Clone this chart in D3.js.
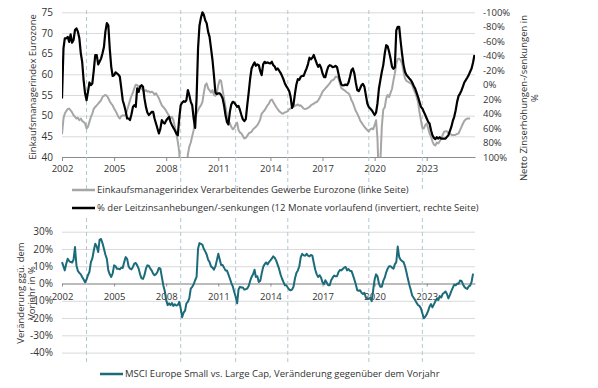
<!DOCTYPE html>
<html lang="de">
<head>
  <meta charset="UTF-8" />
  <title>Einkaufsmanagerindex, Leitzinsen und Small Caps</title>
  <script src="https://cdn.jsdelivr.net/npm/d3@7"></script>
  <style>
    body { margin: 0; background: #fff; }
    svg text { font-family: "Open Sans", sans-serif; font-size: 9.5px; fill: #333; }
    .grid line { stroke: #d9d9d9; }
  </style>
</head>
<body>
<div id="chart"></div>
<script>
// monthly values from 2002-01 on
const startMonth = "2002-01";

// Einkaufsmanagerindex Verarbeitendes Gewerbe Eurozone (left axis)
const pmi = [
  45.5, 49.3, 50.5, 51.1, 51.6, 51.7, 51.3, 50.8, 50.1, 49.7,
  49.3, 49.5, 48.9, 49.3, 48.7, 48.5, 48.1, 46.9, 47.3, 48.5,
  49.7, 50.5, 51.7, 52.1, 52.5, 52.9, 53.3, 53.7, 54.5, 54.8,
  55.0, 54.8, 54.2, 53.5, 52.9, 52.5, 51.7, 51.1, 50.5, 49.7,
  49.3, 49.9, 50.1, 50.0, 50.3, 51.3, 52.5, 53.7, 54.8, 55.6,
  56.6, 57.5, 57.4, 57.0, 57.2, 56.6, 56.2, 55.9, 56.2, 55.8,
  55.9, 55.6, 55.8, 55.6, 55.1, 55.4, 54.8, 54.2, 53.3, 52.5,
  52.1, 51.7, 51.1, 50.5, 50.0, 49.3, 49.7, 48.9, 47.3, 45.7,
  43.7, 41.3, 36.0, 34.0, 34.5, 34.0, 37.0, 40.6, 42.5, 43.5,
  45.0, 46.5, 49.5, 50.5, 51.3, 52.0, 52.5, 53.3, 55.4, 57.4,
  57.8, 56.6, 56.1, 55.6, 56.2, 55.0, 54.8, 55.6, 57.4, 58.6,
  58.4, 56.2, 54.2, 52.1, 50.1, 48.9, 48.1, 47.3, 46.7, 47.0,
  47.8, 48.3, 46.5, 45.9, 45.7, 45.1, 44.5, 44.6, 45.1, 45.7,
  45.9, 46.1, 46.7, 47.0, 47.3, 47.7, 48.3, 49.1, 50.5, 50.9,
  51.3, 51.9, 52.5, 52.9, 53.7, 53.9, 53.3, 52.7, 52.1, 51.6,
  51.1, 50.8, 50.5, 50.5, 50.8, 50.9, 51.1, 51.6, 51.7, 52.0,
  52.1, 52.4, 52.5, 52.7, 52.4, 52.5, 52.1, 51.7, 51.6, 51.7,
  51.9, 52.1, 52.5, 52.7, 52.9, 53.2, 53.3, 53.7, 54.3, 55.0,
  55.8, 56.2, 56.6, 57.0, 57.4, 57.8, 58.4, 58.6, 58.8, 59.4,
  59.4, 59.0, 57.8, 56.7, 56.4, 56.2, 55.9, 55.6, 55.4, 54.8,
  53.7, 53.1, 52.1, 51.1, 50.5, 49.7, 48.9, 48.3, 47.8, 47.3,
  46.9, 46.5, 46.2, 46.7, 46.9, 46.7, 47.7, 48.9, 44.5, 33.5,
  39.0, 47.4, 51.5, 52.0, 54.2, 55.0, 54.5, 55.5, 56.5, 58.6,
  60.2, 62.6, 63.7, 63.8, 63.4, 62.6, 60.6, 59.0, 58.4, 58.2,
  58.0, 57.8, 57.4, 56.4, 55.6, 54.6, 53.3, 50.9, 48.9, 47.0,
  46.9, 47.7, 48.1, 46.9, 45.7, 44.9, 43.8, 43.0, 42.8, 43.5,
  43.3, 43.8, 44.5, 45.3, 46.1, 46.2, 46.2, 45.8, 45.7, 45.4,
  45.3, 45.3, 45.4, 45.6, 45.7, 46.5, 47.3, 48.1, 48.7, 49.1,
  49.3, 49.3, 49.3
];

// % der Leitzinsanhebungen/-senkungen, 12 Monate vorlaufend (right axis, inverted)
const rateNet = [
  19.2, -50, -64, -64, -66, -59, -69.5, -58, -61.6, -75.5,
  -77.8, -73.2, -64, -43, -31.6, -6, 12, 21.5, 10, -3,
  0.7, -1.6, -20, -41, -41, -28, -31.6, -36, -43, -52,
  -73, -85, -82, -50, -25, -12, -13, -17, -15.5, -14,
  -11, 5, 21.5, 28.4, 36.7, 46.8, 46.8, 49, 41, 30.7,
  28.4, 30.7, 5, 10, 3, 0.7, 3, 19, 30.7, 38.5,
  42, 40, 37.6, 37.6, 46.8, 53.7, 60.7, 67.6, 60.7, 49,
  52.4, 53.7, 49.5, 46.8, 44.5, 51.4, 56, 59.7, 63, 67.6,
  70, 46.8, 28.4, 25, 22.8, 23.8, 21.5, 7.6, 14.5, 23.8,
  28.4, 46.8, 59.7, 19, -50, -81.5, -92.5, -100, -97, -89,
  -85, -73, -66, -50, -34, -13, 11, 13, 12, 12,
  14.5, 19, 28.4, 42, 51.4, 55, 37.6, 27.5, 23.8, 24.7,
  27.5, 30.7, 29.3, 35.3, 42, 48, 50.5, 47.7, 28.4, 11,
  -8.5, -22.4, -27, -30.7, -26, -28, -27, -18.7, -13.2, -28,
  -31.6, -29.8, -30.7, -29.8, -29.3, -31.6, -27, -25, -20.5, -22.4,
  -19.6, -16.4, -12.2, -7.6, -1.6, 2, 5.3, 9, 16.8, 32,
  27.5, 12.3, -0.2, -7.6, -6.7, -11, -12.2, -12.2, -17.8, -22.4,
  -28.4, -37.2, -35, -37.2, -41, -35, -29.3, -24.7, -27.5, -23.4,
  -15.5, -10.4, -10.4, -18.7, -24.7, -27, -26, -24.3, -24.7, -26,
  -24.3, -15.5, -6.2, 0, 1, 0.7, 0, 0.7, -3, -11,
  -20, -22.4, -15.5, -3, 7.6, 9, 5.3, 0.7, -1, 3,
  14.5, 26, 31, 33, 35.3, 38.5, 42, 38.5, 26, 5.3,
  -6.2, -17.8, -27, -43, -54.5, -53, -45.5, -36.2, -24.7, -22,
  -24, -75, -80, -80, -60, -42, -27, -17.8, -13.2, -11,
  -8.5, -6.2, -3, 1.6, 5.3, 11, 16.8, 23.8, 30.7, 33,
  37.6, 42, 46.8, 51.4, 53.7, 63, 70, 73.6, 75.4, 72.7,
  74.5, 72.7, 74.5, 74.5, 74.5, 74.5, 72.2, 69.9, 64.4, 58.4,
  50.5, 44.5, 35.3, 23.8, 15.5, 12.3, 8, 2.5, -3, -6.2,
  -9.5, -13.2, -17.8, -22.4, -30.7, -41
];

// MSCI Europe Small vs. Large Cap, Veraenderung gg. Vorjahr in %
const msciRel = [
  12.4, 9.9, 7.6, 11.5, 14.3, 13, 12.4, 12.2, 13.8, 21.1,
  10.5, 7.3, 6.1, 5.3, 3.8, 2.3, 0.7, 2.3, 4.8, 6.7,
  12.4, 14.5, 19.1, 23, 21.4, 18.2, 25.3, 25.8, 23.4, 20.1,
  16.8, 14.3, 7.6, 5.3, 3.8, 5.7, 10.5, 10, 8.6, 8.6,
  8.2, 9.2, 9, 12.4, 15.3, 14.3, 10, 8.6, 8.2, 9.6,
  11.5, 11.9, 10.5, 8.6, 5.3, 3, 2.7, 4.8, 8.6, 10.5,
  10.3, 8.6, 7.6, 5.7, 4.8, 5.4, 6.7, 9, 8.6, 3.8,
  -1, -4.2, -9.6, -12.5, -11.5, -12.5, -11.3, -13, -12, -12.7,
  -12.5, -10.6, -14.4, -19.5, -16.9, -15.7, -11.5, -10.6, -8.6, -2.9,
  -1.9, -0.4, 1.9, 3.8, 20.1, 23.4, 23, 22.4, 20.1, 18.6,
  16.8, 13.8, 12.4, 9.9, 9.2, 8, 9.9, 13.4, 17.2, 13.8,
  10.7, 10.7, 9.2, 7.6, 7.6, 5.3, 2.9, 0.4, -1.6, -4.8,
  -7.7, -11.5, -3.5, -1.9, -2.3, -2.3, -3.5, -3.3, -2.9, -1.4,
  1.5, 3.8, 5.3, 8, 3.8, 4.2, 0.9, 1.5, 5.7, 9.6,
  11.1, 12.2, 11.1, 12.4, 13.4, 14.5, 15.7, 14.9, 13.4, 10.9,
  8.6, 5.3, 2.9, 0.9, -1, -1, -2.3, -3.5, -3.9, -3.5,
  -1.9, 2.9, 6.1, 7.6, 10, 15.3, 17.2, 16.3, 16.1, 17.2,
  16.1, 15.7, 16.5, 16.1, 11.9, 8, 5.3, 3.8, 4.8, 3.4,
  0.6, -0.4, 1.9, 0.4, -1, -1, 1.9, 3.4, 4.6, 4.2,
  4.2, 6.5, 7.8, 7.6, 8.4, 9.2, 9.6, 7.6, 8.4, 7.3,
  7.3, 5, 2.3, -0.4, -3.9, -4.2, -3.9, -5.4, -6.1, -5.4,
  -8.1, -8.8, -8.8, -8.4, -10.2, -3.9, 2.3, 5.3, 4.2, 0,
  -1.9, -1.9, 1.5, 3.4, 6.5, 8.6, 10, 10, 9.2, 8.6,
  11.1, 12.4, 21.4, 15.3, 13.8, 13, 12.4, 10, 6.5, 2.7,
  -0.8, -3.9, -6.9, -8.2, -9.6, -11.1, -12.5, -13, -14.4, -17.2,
  -20.1, -19.2, -17.8, -15.7, -13.4, -11.9, -13.8, -12.1, -10.3, -8.8,
  -9.6, -7.3, -8.1, -6.1, -5.4, -4.6, -6.1, -8.6, -6.7, -4.4,
  -2.5, -0.6, -1, 0, -0.2, 1.7, 1.5, -0.4, -1.9, -2.7,
  -3.1, -1.7, -1.2, 0.9, 5.7
];

const yearTicks = [2002, 2005, 2008, 2011, 2014, 2017, 2020, 2023];
const eventMonths = ["2003-06", "2008-11", "2012-01", "2015-01", "2019-09", "2022-10"];
const leftTicks = [40, 45, 50, 55, 60, 65, 70, 75];
const rightTicks = [-100, -80, -60, -40, -20, 0, 20, 40, 60, 80, 100];
const lowerTicks = [30, 20, 10, 0, -10, -20, -30, -40];

const labelPmi = "Einkaufsmanagerindex Verarbeitendes Gewerbe Eurozone (linke Seite)";
const labelRate = "% der Leitzinsanhebungen/-senkungen (12 Monate vorlaufend (invertiert, rechte Seite)";
const labelMsci = "MSCI Europe Small vs. Large Cap, Veränderung gegenüber dem Vorjahr";

const W = 598, H = 388;
const left = 62, right = 475;
const parseMonth = d3.timeParse("%Y-%m");
const t0 = parseMonth(startMonth);
const toSeries = vals => vals.map((v, i) => ({ date: d3.timeMonth.offset(t0, i), value: v }));

const x = d3.scaleTime()
  .domain([new Date(2002, 0, 1), new Date(2025, 9, 12)])
  .range([left, right]);
const yL = d3.scaleLinear().domain([40, 75]).range([157, 12.3]);
const yR = d3.scaleLinear().domain([100, -100]).range([157, 12.3]);
const yB = d3.scaleLinear().domain([-40, 30]).range([352.6, 231.7]);

const svg = d3.select("#chart").append("svg")
  .attr("width", W)
  .attr("height", H);

svg.append("rect").attr("width", W).attr("height", H).attr("fill", "#fff");

const defs = svg.append("defs");
defs.append("clipPath").attr("id", "clipTop")
  .append("rect")
  .attr("x", left).attr("y", 0)
  .attr("width", right - left).attr("height", yL(40));

const pct = d => d + "%";

// ---------- upper panel ----------
svg.append("g")
  .attr("class", "grid")
  .attr("transform", `translate(${left},0)`)
  .call(d3.axisLeft(yL).tickValues(leftTicks).tickSize(-(right - left)).tickPadding(9))
  .call(g => g.select(".domain").remove())
  .call(g => g.selectAll("text").style("font-size", "10px"));

svg.append("g")
  .attr("transform", `translate(${right},0)`)
  .call(d3.axisRight(yR).tickValues(rightTicks).tickSize(0).tickPadding(8).tickFormat(pct))
  .call(g => g.select(".domain").remove());

svg.append("g")
  .attr("transform", `translate(0,${yL(40)})`)
  .call(d3.axisBottom(x)
    .tickValues(yearTicks.map(yr => new Date(yr, 0, 1)))
    .tickFormat(d3.timeFormat("%Y"))
    .tickSize(4).tickSizeOuter(0).tickPadding(4))
  .call(g => g.select(".domain").attr("stroke", "#8c8c8c"))
  .call(g => g.selectAll(".tick line").attr("stroke", "#8c8c8c"));

// ---------- lower panel ----------
svg.append("g")
  .attr("class", "grid")
  .attr("transform", `translate(${left},0)`)
  .call(d3.axisLeft(yB).tickValues(lowerTicks).tickSize(-(right - left)).tickPadding(9).tickFormat(pct))
  .call(g => g.select(".domain").remove())
  .call(g => g.selectAll("text").style("font-size", "10px"));

svg.append("g")
  .attr("transform", `translate(0,${yB(0)})`)
  .call(d3.axisBottom(x)
    .tickValues(yearTicks.map(yr => new Date(yr, 0, 1)))
    .tickFormat(d3.timeFormat("%Y"))
    .tickSize(3).tickSizeOuter(0).tickPadding(7))
  .call(g => g.select(".domain").attr("stroke", "#8c8c8c"))
  .call(g => g.selectAll(".tick line").attr("stroke", "#8c8c8c"));

// dashed markers
const events = eventMonths.map(parseMonth);
[[10, 192], [218, 364]].forEach(([y0, y1]) => {
  svg.append("g").selectAll("line")
    .data(events)
    .join("line")
    .attr("x1", d => x(d)).attr("x2", d => x(d))
    .attr("y1", y0).attr("y2", y1)
    .attr("stroke", "#b3c8d1")
    .attr("stroke-width", 1)
    .attr("stroke-dasharray", "4,3");
});

// series
const lineL = d3.line().x(d => x(d.date)).y(d => yL(d.value));
const lineR = d3.line().x(d => x(d.date)).y(d => yR(d.value));
const lineB = d3.line().x(d => x(d.date)).y(d => yB(d.value));

const upperG = svg.append("g").attr("clip-path", "url(#clipTop)");
upperG.append("path")
  .datum(toSeries(pmi))
  .attr("fill", "none")
  .attr("stroke", "#a6a6a6")
  .attr("stroke-width", 2)
  .attr("stroke-linejoin", "round")
  .attr("d", lineL);
upperG.append("path")
  .datum(toSeries(rateNet))
  .attr("fill", "none")
  .attr("stroke", "#000")
  .attr("stroke-width", 2.2)
  .attr("stroke-linejoin", "round")
  .attr("d", lineR);

svg.append("path")
  .datum(toSeries(msciRel))
  .attr("fill", "none")
  .attr("stroke", "#1b6b7b")
  .attr("stroke-width", 2)
  .attr("stroke-linejoin", "round")
  .attr("d", lineB);

// axis titles
svg.append("text")
  .attr("transform", "translate(35.5,87) rotate(-90)")
  .attr("text-anchor", "middle")
  .text("Einkaufsmanagerindex Eurozone");

const rt = svg.append("text")
  .attr("transform", "translate(527,98) rotate(-90)")
  .attr("text-anchor", "middle");
rt.append("tspan").attr("x", 0).text("Netto Zinserhöhungen-/senkungen in");
rt.append("tspan").attr("x", 0).attr("dy", "1.2em").text("%");

const bt = svg.append("text")
  .attr("transform", "translate(23.5,293) rotate(-90)")
  .attr("text-anchor", "middle");
bt.append("tspan").attr("x", 0).text("Veränderung ggü. dem");
bt.append("tspan").attr("x", 0).attr("dy", "1.25em").text("Vorjahr in %");

// legends
const legend = [
  { x: 72, y: 190, color: "#a6a6a6", label: labelPmi },
  { x: 72, y: 208, color: "#000", label: labelRate },
  { x: 100, y: 374, color: "#1b6b7b", label: labelMsci }
];
const lg = svg.append("g").selectAll("g")
  .data(legend)
  .join("g")
  .attr("transform", d => `translate(${d.x},${d.y})`);
lg.append("line")
  .attr("x1", 0).attr("x2", 23)
  .attr("stroke", d => d.color)
  .attr("stroke-width", 2.5);
lg.append("text")
  .attr("x", 25)
  .attr("dy", "0.35em")
  .text(d => d.label);
</script>
</body>
</html>
